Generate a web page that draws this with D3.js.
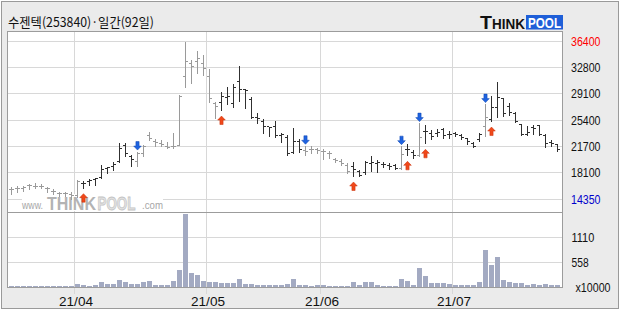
<!DOCTYPE html>
<html><head><meta charset="utf-8">
<script src="https://cdn.jsdelivr.net/npm/d3@7/dist/d3.min.js"></script>
<style>html,body{margin:0;padding:0;background:#fff;} svg{display:block;}</style>
</head><body>
<svg id="c" width="620" height="310"></svg>
<script>
const title = "수젠텍(253840)·일간(92일)";
const opens = [15700,15850,15900,16250,16200,16200,15900,15450,15150,15100,15050,14850,16550,16900,17150,17400,18700,18900,19700,21900,20400,19700,20700,23300,22500,22200,21700,21800,21900,31500,33300,33600,33400,31500,27800,27900,28600,27700,30800,29700,28300,25800,25200,24500,24500,23300,23000,20900,22400,21200,21250,21250,21000,20800,19900,19600,19100,18900,18300,18100,19400,19300,19250,19100,19100,18650,21350,20900,20500,23900,23500,23500,24100,23450,23500,23300,22800,22200,22750,24500,25550,27200,28400,27400,26400,24800,23450,24350,24650,23300,22350,22000];
const highs = [16100,16200,16200,16450,16680,16490,16120,15750,15370,15370,15330,17050,16870,17240,17380,19100,18920,19600,22200,22200,20550,21000,22000,23700,22800,22650,22400,23600,28950,36400,33900,35050,34540,32550,28010,29400,30000,30480,33000,29740,28700,26380,25540,24510,25340,23620,23330,24330,22800,21810,21810,21580,21340,21110,20180,19940,19480,19570,18450,19710,20410,19800,19570,19380,19240,21760,22100,21300,24980,24720,24000,24140,24370,23900,23770,23440,22900,22370,23580,27640,28800,30760,28570,27870,26560,24840,24600,24700,24700,23440,22650,22040];
const lows = [15050,15370,15450,15840,15950,15890,15420,15090,14860,14860,14350,14700,15980,16310,16400,17400,18080,18450,19500,20400,19000,19000,20400,22700,21850,21750,21500,21500,21900,30100,30580,31970,31720,28010,25680,26840,27680,27220,28150,27080,25660,24980,23580,23210,23120,22390,20530,20780,20950,20500,20880,20880,20040,20180,19570,19100,18080,17610,17610,17850,18250,18200,18920,18640,18540,18540,20500,20150,20410,22180,22740,23210,22980,22970,23210,22740,22040,21720,22510,23210,25300,25910,26000,26100,25170,23300,23300,23440,23300,21720,21810,21110];
const closes = [15750,15900,15950,16300,16150,16200,15850,15400,15100,15100,14900,16800,16600,17050,17250,18500,18800,19200,21500,20800,19900,20700,21700,22900,22300,22000,21600,21800,28800,33600,32900,34100,32700,28500,27300,28700,28800,30000,29700,29600,25800,25700,24500,24400,23300,23400,20800,22400,21300,21000,21250,21200,21000,20700,19800,19300,18300,18500,17650,19500,19500,19450,19250,18950,18650,20550,21300,20500,23000,23800,23100,23750,23250,23400,23400,23000,22500,21800,23400,25850,27150,28550,26400,26500,25300,23400,23650,24250,23450,22200,22200,21350];
const volumes = [25,22,20,24,28,22,20,18,20,18,22,74,60,37,52,119,82,82,163,119,82,82,126,148,60,60,60,148,386,1630,326,274,141,126,126,89,89,104,185,82,82,60,60,60,60,60,74,185,60,60,37,52,52,37,37,37,37,126,60,126,126,52,30,30,30,185,148,60,430,252,104,104,104,74,52,52,52,52,119,831,497,675,163,126,89,104,60,74,60,74,60,52];
const buySignals = [12,35,57,66,69,80];
const sellSignals = [21,49,65,68,79];
const priceTicks = [36400,32800,29100,25400,21700,18100,14350];
const volTicks = [1110,558];
const volUnit = "x10000";
const monthTickIdx = [11,33,52,74];
const monthTickLabels = ["21/04","21/05","21/06","21/07"];

const svg = d3.select('#c');
const N = opens.length;
const PL = 7, PR = 563, PT = 31, SEP = 212, PB = 287;

const x = d3.scaleBand().domain(d3.range(N)).range([9, 9 + 6 * N]).padding(0);
const y = d3.scaleLinear().domain([14350, 36400]).range([199.3, 41.7]);
const yv = d3.scaleLinear().domain([0, 1665]).range([287.3, 212.3]);
const px = v => Math.floor(v) + 0.5;

// frame
svg.append('rect').attr('x', 0).attr('y', 0).attr('width', 620).attr('height', 310).attr('fill', '#fff');
svg.append('rect').attr('x', 1.5).attr('y', 1.5).attr('width', 617).attr('height', 307)
  .attr('fill', '#ebebeb').attr('stroke', '#9a9a9a');
svg.append('rect').attr('x', PL + 0.5).attr('y', PT + 0.5).attr('width', PR - PL - 1).attr('height', PB - PT)
  .attr('fill', '#fff');

// grid
const g = svg.append('g');
g.selectAll('line.hp').data(priceTicks).enter().append('line')
  .attr('x1', PL + 1).attr('x2', PR - 1)
  .attr('y1', d => px(y(d))).attr('y2', d => px(y(d)))
  .attr('stroke', '#d8d8d8');
g.selectAll('line.hv').data(volTicks).enter().append('line')
  .attr('x1', PL + 1).attr('x2', PR - 1)
  .attr('y1', d => px(yv(d))).attr('y2', d => px(yv(d)))
  .attr('stroke', '#d8d8d8');
g.selectAll('line.v').data(monthTickIdx).enter().append('line')
  .attr('x1', d => x(d) - 0.5).attr('x2', d => x(d) - 0.5)
  .attr('y1', PT + 1).attr('y2', 294)
  .attr('stroke', '#d8d8d8');

// borders
svg.append('rect').attr('x', PL + 0.5).attr('y', PT + 0.5).attr('width', PR - PL - 1).attr('height', PB - PT)
  .attr('fill', 'none').attr('stroke', '#9c9c9c');
svg.append('line').attr('x1', PL).attr('x2', PR).attr('y1', SEP + 0.5).attr('y2', SEP + 0.5).attr('stroke', '#9c9c9c');

// watermark: each piece scaled by transform to its target width
const wm = svg.append('g').attr('font-family', 'Liberation Sans, Arial');
wm.append('rect').attr('x', 22).attr('y', 194).attr('width', 141).attr('height', 17).attr('fill', '#fff');
function fitText(parent, str, x0, y0, w, attrs) {
  const t = parent.append('text').attr('x', 0).attr('y', 0).text(str);
  Object.entries(attrs).forEach(([k, v]) => t.attr(k, v));
  const nat = t.node().getComputedTextLength();
  t.attr('transform', `translate(${x0},${y0}) scale(${w / nat},1)`);
  return t;
}
fitText(wm, 'www.', 22, 209, 21, {'font-size': 11, fill: '#a6a6a6'});
fitText(wm, 'THINK', 47, 210, 49, {'font-size': 18, 'font-weight': 'bold', fill: '#b3b3b3'});
fitText(wm, 'POOL', 97.5, 210, 38, {'font-size': 18, 'font-weight': 'bold', fill: '#e2e2e2', stroke: '#c4c4c4', 'stroke-width': 0.8});
fitText(wm, '.com', 142, 209, 21, {'font-size': 11, fill: '#a6a6a6'});

// signal state -> bar colours
const state = [];
let on = false;
for (let i = 0; i < N; i++) {
  if (buySignals.includes(i)) on = true;
  if (sellSignals.includes(i)) on = false;
  state.push(on);
}
const colOf = i => state[i] ? '#303030' : '#9a9a9a';

// volume bars
svg.append('g').selectAll('rect').data(volumes).enter().append('rect')
  .attr('x', (d, i) => x(i)).attr('width', 5)
  .attr('y', d => Math.round(yv(d))).attr('height', d => 287 - Math.round(yv(d)))
  .attr('fill', '#a3aac2');

// OHLC bars
const bars = svg.append('g');
d3.range(N).forEach(i => {
  const cx = x(i) + 2.5;
  const c = colOf(i);
  const yh = Math.round(y(highs[i])), yl = Math.round(y(lows[i]));
  bars.append('line').attr('x1', cx).attr('x2', cx).attr('y1', yh).attr('y2', yl + 1).attr('stroke', c);
  const yo = px(y(opens[i])), yc = px(y(closes[i]));
  bars.append('line').attr('x1', cx - 2.5).attr('x2', cx - 0.5).attr('y1', yo).attr('y2', yo).attr('stroke', c);
  bars.append('line').attr('x1', cx + 0.5).attr('x2', cx + 2.5).attr('y1', yc).attr('y2', yc).attr('stroke', c);
});

// arrows
const ar = svg.append('g');
buySignals.forEach(i => {
  const cx = x(i) + 2.5, t = y(lows[i]) + 6;
  ar.append('path').attr('d', `M${cx},${t} L${cx + 3.8},${t + 4} L${cx + 1.6},${t + 4} L${cx + 1.6},${t + 8.5} L${cx - 1.6},${t + 8.5} L${cx - 1.6},${t + 4} L${cx - 3.8},${t + 4} Z`)
    .attr('fill', '#f0481a').attr('stroke', '#c8300a').attr('stroke-width', 0.5);
});
sellSignals.forEach(i => {
  const cx = x(i) + 2.5, b = y(highs[i]) - 1.7;
  ar.append('path').attr('d', `M${cx},${b} L${cx + 3.8},${b - 4} L${cx + 1.6},${b - 4} L${cx + 1.6},${b - 8.5} L${cx - 1.6},${b - 8.5} L${cx - 1.6},${b - 4} L${cx - 3.8},${b - 4} Z`)
    .attr('fill', '#1f63e0').attr('stroke', '#0c44b0').attr('stroke-width', 0.5);
});

// right price labels
const lab = svg.append('g').attr('font-family', 'Liberation Sans, Arial').attr('font-size', 13);
lab.selectAll('text.p').data(priceTicks).enter().append('text')
  .attr('x', 571).attr('y', d => px(y(d)) + 4.5)
  .attr('fill', (d, i) => i === 0 ? '#ff0000' : (i === priceTicks.length - 1 ? '#0000cc' : '#111'))
  .attr('textLength', d => String(d).length * 5.9).attr('lengthAdjust', 'spacingAndGlyphs')
  .text(d => d);
lab.selectAll('text.v').data(volTicks).enter().append('text')
  .attr('x', 571.5).attr('y', d => px(yv(d)) + 4.5).attr('fill', '#111')
  .attr('textLength', d => String(d).length * 5.7).attr('lengthAdjust', 'spacingAndGlyphs')
  .text(d => d);
lab.append('text').attr('x', 575.5).attr('y', 292).attr('fill', '#111')
  .attr('textLength', 35).attr('lengthAdjust', 'spacingAndGlyphs').text(volUnit);

// x labels
lab.selectAll('text.x').data(monthTickIdx).enter().append('text')
  .attr('x', d => x(d) + 1).attr('y', 305.5).attr('text-anchor', 'middle').attr('fill', '#111')
  .attr('textLength', 34).attr('lengthAdjust', 'spacingAndGlyphs')
  .text((d, i) => monthTickLabels[i]);

// title
svg.append('text').attr('x', 8).attr('y', 26.5).attr('font-family', 'Noto Sans CJK KR, sans-serif')
  .attr('font-size', 13).attr('fill', '#111').attr('textLength', 146).attr('lengthAdjust', 'spacingAndGlyphs')
  .text(title);

// logo
const lg = svg.append('g').attr('font-family', 'Liberation Sans, Arial').attr('font-weight', 'bold');
lg.append('rect').attr('x', 526).attr('y', 15).attr('width', 37).attr('height', 14.5).attr('fill', '#1f5fd8');
const lt = lg.append('text').attr('x', 480).attr('y', 29);
lt.append('tspan').attr('font-size', 18).attr('fill', '#111').attr('textLength', 12).attr('lengthAdjust', 'spacingAndGlyphs').text('T');
lt.append('tspan').attr('font-size', 15).attr('fill', '#111').attr('textLength', 33).attr('lengthAdjust', 'spacingAndGlyphs').text('HINK');
lt.append('tspan').attr('x', 528).attr('dy', -1.5).attr('font-size', 14).attr('fill', '#fff')
  .attr('textLength', 33).attr('lengthAdjust', 'spacingAndGlyphs').text('POOL');
</script>
</body></html>
